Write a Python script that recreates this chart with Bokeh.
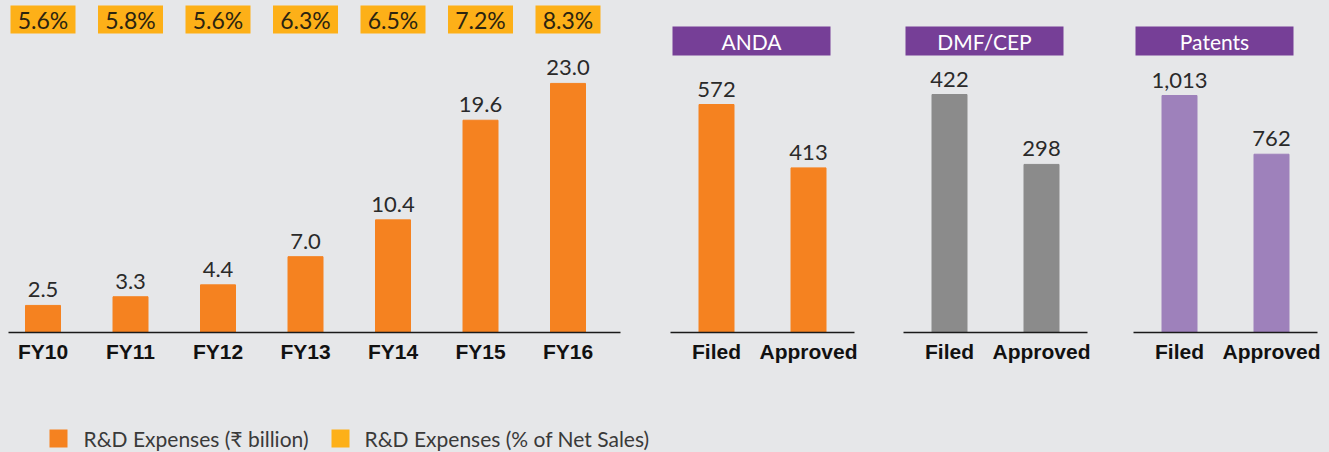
from bokeh.plotting import figure
from bokeh.layouts import row, column
from bokeh.models import ColumnDataSource, FixedTicker, LabelSet, Range1d
from bokeh.core.properties import value
from bokeh.embed import file_html
from bokeh.resources import INLINE

# ---------------- data ----------------
years = ["FY10", "FY11", "FY12", "FY13", "FY14", "FY15", "FY16"]
rd_expenses = [2.5, 3.3, 4.4, 7.0, 10.4, 19.6, 23.0]          # ₹ billion
rd_pct_sales = [5.6, 5.8, 5.6, 6.3, 6.5, 7.2, 8.3]            # % of net sales
statuses = ["Filed", "Approved"]
anda = [572, 413]
dmf_cep = [422, 298]
patents = [1013, 762]
panel_titles = ["ANDA", "DMF/CEP", "Patents"]
legend_labels = ["R&D Expenses (₹ billion)", "R&D Expenses (% of Net Sales)"]

# ---------------- style ----------------
BG = "#e6e7e9"
ORANGE = "#f58220"
YELLOW = "#fdb018"
GREY = "#8b8b8b"
LILAC = "#9e81bb"
PURPLE = "#763f97"
VAL_FONT = "Lato"
CAT_FONT = "Liberation Sans"
FRAME_H = 332
ROW_H = 380
TOTAL_W = 1329
TOTAL_H = 452


def base_fig(frame_w, left_border, right_border, x_range, y_end, ticks, labels):
    p = figure(frame_width=frame_w, frame_height=FRAME_H,
               min_border_left=left_border, min_border_right=right_border,
               min_border_top=0, min_border_bottom=ROW_H - FRAME_H,
               x_range=x_range, y_range=Range1d(0, y_end),
               output_backend="svg", toolbar_location=None, tools="")
    p.background_fill_color = BG
    p.border_fill_color = BG
    p.outline_line_color = None
    p.grid.visible = False
    p.yaxis.visible = False
    ax = p.xaxis[0]
    ax.ticker = FixedTicker(ticks=ticks)
    ax.major_label_overrides = {t: l for t, l in zip(ticks, labels)}
    ax.major_tick_line_color = None
    ax.major_tick_out = 0
    ax.major_tick_in = 0
    ax.minor_tick_line_color = None
    ax.minor_tick_out = 0
    ax.axis_line_color = "#1a1a1a"
    ax.axis_line_width = 1.5
    ax.major_label_text_font = CAT_FONT
    ax.major_label_text_font_style = "bold"
    ax.major_label_text_font_size = "21px"
    ax.major_label_text_color = "#111111"
    ax.major_label_standoff = 7
    return p


# ---------------- R&D expenses panel ----------------
PX1 = 10.83                      # pixels per ₹ billion
SP1 = 87.5                       # pixels between bars
FW1 = 612
x0 = -34.5 / SP1
y1_end = FRAME_H / PX1
idx = list(range(len(years)))
p1 = base_fig(FW1, 8, 50, Range1d(x0, x0 + FW1 / SP1), y1_end, idx, years)

src1 = ColumnDataSource(dict(
    x=idx, v=rd_expenses, lab=[f"{v:.1f}" for v in rd_expenses],
    pct=[f"{v:.1f}%" for v in rd_pct_sales],
    py=[y1_end - 19 / PX1] * len(years)))
p1.vbar(x="x", top="v", width=35 / SP1, source=src1, color=ORANGE)
p1.rect(x="x", y="py", width=65, height=28, width_units="screen",
        height_units="screen", source=src1, fill_color=YELLOW, line_color=None)
p1.text(x="x", y="py", text="pct", source=src1, text_align="center",
        text_baseline="middle", text_font=value(VAL_FONT),
        text_font_size="23px", text_color="#2b2410")
p1.add_layout(LabelSet(x="x", y="v", text="lab", source=src1, y_offset=8,
                       text_align="center", text_baseline="alphabetic",
                       text_font=value(VAL_FONT), text_font_size="22px",
                       text_color="#2a2a2a"))

# ---------------- filing panels ----------------
SP2 = 92
FW2 = 184


def panel(vals, title, color, px, right_border):
    y_end = FRAME_H / px
    p = base_fig(FW2, 0, right_border, Range1d(-0.5, -0.5 + FW2 / SP2), y_end,
                 [0, 1], statuses)
    src = ColumnDataSource(dict(x=[0, 1], v=vals, lab=[f"{v:,}" for v in vals]))
    p.vbar(x="x", top="v", width=35 / SP2, source=src, color=color)
    p.add_layout(LabelSet(x="x", y="v", text="lab", source=src, y_offset=8,
                          text_align="center", text_baseline="alphabetic",
                          text_font=value(VAL_FONT), text_font_size="22px",
                          text_color="#2a2a2a"))
    hsrc = ColumnDataSource(dict(x=[-0.5 + 81 / SP2], y=[y_end - 40.5 / px], t=[title]))
    p.rect(x="x", y="y", width=158, height=29, width_units="screen",
           height_units="screen", source=hsrc, fill_color=PURPLE, line_color=None)
    p.text(x="x", y="y", text="t", source=hsrc, text_align="center",
           text_baseline="middle", text_font=value(VAL_FONT),
           text_font_size="21px", text_color="white")
    return p


p2 = panel(anda, panel_titles[0], ORANGE, 228 / 572, 49)
p3 = panel(dmf_cep, panel_titles[1], GREY, 238 / 422, 46)
p4 = panel(patents, panel_titles[2], LILAC, 237 / 1013, 12)

# ---------------- legend (pixel-scaled strip) ----------------
LEG_H = TOTAL_H - ROW_H
pl = figure(width=TOTAL_W, height=LEG_H, min_border=0,
            x_range=Range1d(0, TOTAL_W), y_range=Range1d(TOTAL_H, ROW_H),
            output_backend="svg", toolbar_location=None, tools="")
pl.background_fill_color = BG
pl.border_fill_color = BG
pl.outline_line_color = None
pl.grid.visible = False
pl.axis.visible = False
lsrc = ColumnDataSource(dict(sx=[58, 340], tx=[83, 364], y=[438, 438],
                             c=[ORANGE, YELLOW], t=legend_labels))
pl.rect(x="sx", y="y", width=18, height=18, source=lsrc, fill_color="c",
        line_color=None)
pl.text(x="tx", y="y", text="t", source=lsrc, text_align="left",
        text_baseline="middle", text_font=value(VAL_FONT),
        text_font_size="21px", text_color="#3a3a3a")

top_row = row(p1, p2, p3, p4, spacing=0)
top_row.styles = {"background-color": BG}
layout = column(top_row, pl, spacing=0)
layout.styles = {"background-color": BG}

open("out.html", "w").write(file_html(layout, INLINE))
